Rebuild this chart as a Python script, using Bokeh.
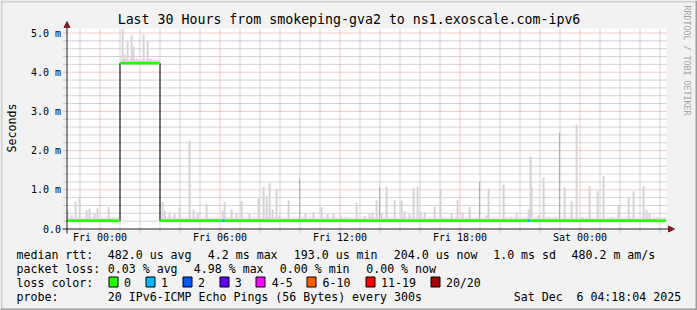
from bokeh.plotting import figure
from bokeh.models import (Label, Arrow, NormalHead, BoxAnnotation, FixedTicker, Range1d)
from bokeh.embed import file_html
from bokeh.resources import INLINE

# ---------------- data (hours relative to Fri 00:00, values in ms) ----------------
xtick_hours = [0, 6, 12, 18, 24]
xtick_labels = ["Fri 00:00", "Fri 06:00", "Fri 12:00", "Fri 18:00", "Sat 00:00"]
ytick_vals = [0, 1, 2, 3, 4, 5]
ytick_labels = ["0.0", "1.0 m", "2.0 m", "3.0 m", "4.0 m", "5.0 m"]

# median rtt, piecewise (segment edges in hours)
median_edges = [-1.67, 1.0, 3.0, 28.30]
median_level = [0.21, 4.23, 0.21]
smoke_low = [0.19, 4.20, 0.19]
smoke_mid = [0.24, 4.27, 0.24]
smoke_top = [0.29, 4.32, 0.29]

# smoke spikes (max ping of a 5-minute sample)
spike_t = [-1.62, -1.42, -1.22, -1.02, -0.67, -0.52, -0.27, -0.12, 0.43, 0.68,
           1.13, 1.23, 1.38, 1.58, 1.68, 1.83, 2.18, 2.38, 2.53, 2.73,
           3.13, 3.23, 3.48, 3.73, 3.98, 4.48, 4.68, 4.88, 5.33, 6.13,
           6.23, 6.58, 6.83, 7.08, 7.48, 7.93, 8.18, 8.33, 8.48, 8.63,
           8.83, 8.98, 9.43, 10.28, 10.68, 11.08, 11.38, 11.68, 12.03, 12.28,
           12.83, 13.23, 13.48, 13.63, 13.83, 14.08, 14.33, 14.73, 15.08, 15.23,
           15.48, 15.68, 15.88, 16.03, 16.23, 16.73, 17.03, 17.58, 17.88, 18.13,
           18.48, 19.33, 19.43, 20.18, 20.58, 20.83, 21.43, 21.53, 21.58, 21.93,
           22.18, 22.43, 22.78, 23.23, 23.58, 23.83, 24.08, 24.48, 24.88, 25.18,
           25.58, 25.93, 26.43, 26.68, 27.18, 27.33, 27.48, 27.88]
spike_v = [0.47, 0.35, 0.70, 0.78, 0.47, 0.52, 0.40, 0.52, 0.56, 0.30,
           5.10, 4.46, 4.79, 4.94, 4.64, 4.35, 4.97, 4.79, 4.35, 4.30,
           0.69, 0.47, 0.43, 0.40, 0.55, 2.25, 0.50, 0.42, 0.63, 0.47,
           0.69, 0.50, 0.40, 0.71, 0.38, 0.77, 1.08, 0.85, 1.17, 0.50,
           1.02, 0.35, 0.73, 0.40, 0.42, 0.56, 0.38, 0.38, 0.35, 0.30,
           0.67, 0.33, 0.40, 0.42, 0.73, 0.42, 1.08, 0.74, 0.73, 0.45,
           0.40, 1.05, 1.08, 0.45, 0.42, 0.56, 1.00, 0.40, 0.74, 0.42,
           0.56, 0.35, 1.03, 1.13, 0.30, 0.43, 0.50, 1.87, 1.06, 0.35,
           1.32, 0.30, 0.30, 1.07, 0.70, 2.66, 0.30, 1.10, 0.96, 1.35,
           0.30, 0.61, 0.79, 0.96, 1.09, 0.50, 0.40, 0.30]
# thin darker smoke lines
dark_spike_t = [9.98, 13.98, 18.98, 22.98]
dark_spike_v = [1.28, 1.07, 1.20, 2.46]

# samples with packet loss (count of lost pings out of 20)
loss_t = [6.17, 21.45]
loss_n = [1, 1]

loss_labels = ["0", "1", "2", "3", "4-5", "6-10", "11-19", "20/20"]
loss_colors = ["#26ff00", "#00b8ff", "#0059ff", "#5e00ff", "#ff00ff", "#ff5e00", "#ff0000", "#a00000"]

title_text = "Last 30 Hours from smokeping-gva2 to ns1.exoscale.com-ipv6"
rtt_stats = ["482.0 us avg", "4.2 ms max", "193.0 us min", "204.0 us now", "1.0 ms sd", "480.2 m am/s"]
loss_stats = ["0.03 % avg", "4.98 % max", "0.00 % min", "0.00 % now"]
probe_text = "20 IPv6-ICMP Echo Pings (56 Bytes) every 300s"
date_parts = ["Sat Dec", "6 04:18:04 2025"]

# ---------------- layout (canvas pixels -> data) ----------------
W, H = 697, 310
GL, GR, GT, GB = 66, 666, 28, 229        # graph (white canvas) box
H0 = -1.675                               # hour at graph left edge
PXH = 20.0                                # pixels per hour
ZERO_PY = 228.5                           # pixel row of 0 ms
PXMS = 39.2                               # pixels per ms


def X(px):
    return H0 + (px - GL) / PXH


def Y(py):
    return (ZERO_PY - py) / PXMS


MONO = "DejaVu Sans Mono"
CW = 6.96   # legend character advance in pixels

p = figure(width=W, height=H, x_range=Range1d(X(0), X(W)), y_range=Range1d(Y(H), Y(0)),
           output_backend="svg", toolbar_location=None, min_border=0,
           background_fill_color="#f2f2f2", border_fill_color="#f2f2f2",
           outline_line_color=None)
p.grid.visible = False

# white graph canvas
p.add_layout(BoxAnnotation(left=X(GL), right=X(GR), top=Y(GT), bottom=Y(GB),
                           fill_color="white", fill_alpha=1, line_color=None, level="image"))

# ---------------- grid ----------------
minor_x = [h for h in range(-1, 29) if h not in xtick_hours]
minor_y = [round(i * 0.2, 1) for i in range(1, 26) if i % 5 != 0]
major_y = [v for v in ytick_vals if v > 0]

g1 = p.segment(x0=minor_x, x1=minor_x, y0=Y(232), y1=Y(GT), line_color="#8f8f8f",
               line_alpha=0.75, line_dash="1 1", line_width=1)
g2 = p.segment(x0=X(63), x1=X(GR), y0=minor_y, y1=minor_y, line_color="#8f8f8f",
               line_alpha=0.75, line_dash="1 1", line_width=1)
g3 = p.segment(x0=xtick_hours, x1=xtick_hours, y0=Y(232), y1=Y(GT), line_color="#de4f4f",
               line_alpha=0.6, line_dash="1 1", line_width=1)
g4 = p.segment(x0=X(63), x1=X(GR), y0=major_y, y1=major_y, line_color="#de4f4f",
               line_alpha=0.6, line_dash="1 1", line_width=1)
for g in (g1, g2, g3, g4):
    g.level = "underlay"

# ---------------- axes (fixed inside the canvas) ----------------
xt = FixedTicker(ticks=xtick_hours, minor_ticks=[])
yt = FixedTicker(ticks=ytick_vals, minor_ticks=[])
for ax, t in ((p.xaxis, xt), (p.yaxis, yt)):
    ax.ticker = t
    ax.axis_line_color = None
    ax.major_tick_line_color = None
    ax.minor_tick_line_color = None
    ax.major_tick_in = 0
    ax.major_tick_out = 0
    ax.major_label_text_font = MONO
    ax.major_label_text_font_size = "10px"
    ax.major_label_text_color = "black"
p.xaxis.fixed_location = 0
p.yaxis.fixed_location = X(66.5)
p.xaxis.major_label_overrides = {h: s for h, s in zip(xtick_hours, xtick_labels)}
p.xaxis.major_label_standoff = 3
p.yaxis.major_label_overrides = {v: s for v, s in zip(ytick_vals, ytick_labels)}
p.yaxis.major_label_standoff = 6

# ---------------- smoke ----------------
p.quad(left=median_edges[:-1], right=median_edges[1:], bottom=smoke_low, top=smoke_top,
       fill_color="#dddddd", line_color=None)
p.quad(left=median_edges[:-1], right=median_edges[1:], bottom=smoke_low, top=smoke_mid,
       fill_color="#c6c6c6", line_color=None)


def seg_index(t):
    for i in range(len(median_level)):
        if median_edges[i] <= t < median_edges[i + 1]:
            return i
    return len(median_level) - 1


spike_base = [smoke_mid[seg_index(t)] for t in spike_t]
p.vbar(x=spike_t, width=0.1, bottom=spike_base, top=spike_v, fill_color="#d4d4d4", line_color=None)
dark_base = [smoke_mid[seg_index(t)] for t in dark_spike_t]
p.vbar(x=dark_spike_t, width=0.05, bottom=dark_base, top=dark_spike_v, fill_color="#a8a8a8", line_color=None)

# ---------------- median ----------------
mx, my = [], []
for i, lv in enumerate(median_level):
    mx += [median_edges[i], median_edges[i + 1]]
    my += [lv, lv]
p.line(mx, my, line_color="black", line_width=1)
p.segment(x0=median_edges[:-1], x1=median_edges[1:], y0=median_level, y1=median_level,
          line_color=loss_colors[0], line_width=2.6)


def loss_bin(n):
    bins = [0, 1, 2, 3, 5, 10, 19, 20]
    for i, b in enumerate(bins):
        if n <= b:
            return i
    return 7


lv_at = [median_level[seg_index(t)] for t in loss_t]
p.segment(x0=[t - 0.06 for t in loss_t], x1=[t + 0.06 for t in loss_t], y0=lv_at, y1=lv_at,
          line_color=[loss_colors[loss_bin(n)] for n in loss_n], line_width=2.6)

# ---------------- axes arrows ----------------
AR = "#801f1f"
p.add_layout(Arrow(end=NormalHead(size=6, fill_color=AR, line_color=AR, line_width=1),
                   x_start=X(66.5), y_start=Y(233), x_end=X(66.5), y_end=Y(21),
                   line_color="#1f1f1f", line_width=1))
p.add_layout(Arrow(end=NormalHead(size=6, fill_color=AR, line_color=AR, line_width=1),
                   x_start=X(62), y_start=0, x_end=X(674), y_end=0,
                   line_color="#1f1f1f", line_width=1))

# ---------------- texts ----------------
p.add_layout(Label(x=X(348.5), y=Y(19.4), text=title_text, text_align="center",
                   text_baseline="middle", text_font=MONO, text_font_size="13.25px",
                   text_color="black"))
p.add_layout(Label(x=X(11), y=Y(127.5), text="Seconds", angle=90, angle_units="deg",
                   text_align="center", text_baseline="middle", text_font=MONO,
                   text_font_size="11.6px", text_color="black"))
p.add_layout(Label(x=X(686.5), y=Y(5), text="RRDTOOL / TOBI OETIKER", angle=-90, angle_units="deg",
                   text_align="left", text_baseline="middle", text_font=MONO,
                   text_font_size="8.3px", text_color="#a6a6a6"))


def txt(s, px, py):
    p.add_layout(Label(x=X(px), y=Y(py), text=s, text_align="left", text_baseline="middle",
                       text_font=MONO, text_font_size="11.6px", text_color="black"))


row_mid = [254.5, 268.3, 282.1, 296.0]
txt("median rtt:", 16, row_mid[0])
for s, px in zip(rtt_stats, [107.3, 207.3, 293.3, 393.3, 492.7, 571.0]):
    txt(s, px, row_mid[0])
txt("packet loss:", 16, row_mid[1])
for s, px in zip(loss_stats, [107.3, 193.3, 279.3, 365.7]):
    txt(s, px, row_mid[1])
txt("loss color:", 16, row_mid[2])
box_x = [108.7, 145.7, 182.7, 219.5, 256.5, 307.2, 365.7, 430.6]
for lab, col, bx in zip(loss_labels, loss_colors, box_x):
    p.add_layout(BoxAnnotation(left=X(round(bx) - 0.5), right=X(round(bx) + 8.5),
                               top=Y(276.5), bottom=Y(286.5),
                               fill_color=col, fill_alpha=1, line_color="black", line_alpha=1,
                               line_width=1))
    txt(lab, bx + 14.8, row_mid[2])
txt("probe:", 16, row_mid[3])
txt(probe_text, 107.3, row_mid[3])
txt(date_parts[0], 513.3, row_mid[3])
txt(date_parts[1], 513.3 + 9 * CW, row_mid[3])

# bevel frame
for l, r, t, b, c in ((0, 697, 0, 2, "#cfcfcf"), (0, 2, 0, 310, "#cfcfcf"),
                      (0, 697, 308, 310, "#9e9e9e"), (695, 697, 0, 310, "#9e9e9e")):
    p.add_layout(BoxAnnotation(left=X(l), right=X(r), top=Y(t), bottom=Y(b), fill_color=c,
                               fill_alpha=1, line_color=None))

open("out.html", "w").write(file_html(p, INLINE))
